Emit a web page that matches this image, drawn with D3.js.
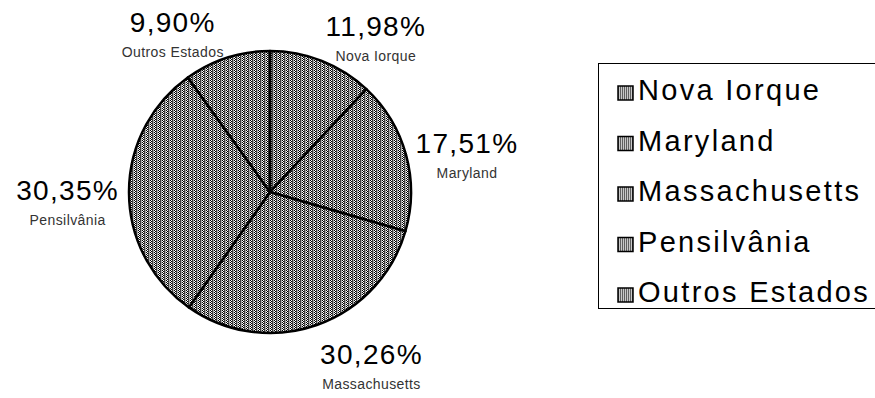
<!DOCTYPE html>
<html>
<head>
<meta charset="utf-8">
<script src="https://cdn.jsdelivr.net/npm/d3@7/dist/d3.min.js"></script>
<style>
  html, body { margin: 0; padding: 0; background: #fff; }
  svg { display: block; }
</style>
</head>
<body>
<svg id="chart" width="875" height="398"></svg>
<script>
// Share of each state (percent)
const states = ["Nova Iorque", "Maryland", "Massachusetts", "Pensilvânia", "Outros Estados"];
const shares = [11.98, 17.51, 30.26, 30.35, 9.90];
const shareLabels = ["11,98%", "17,51%", "30,26%", "30,35%", "9,90%"];

const W = 875, H = 398;
const svg = d3.select("#chart");

// Dithered grey fill used for the slices and the legend keys
const defs = svg.append("defs");
const pat = defs.append("pattern")
  .attr("id", "dither").attr("patternUnits", "userSpaceOnUse")
  .attr("width", 4).attr("height", 2);
pat.append("rect").attr("width", 4).attr("height", 2).attr("fill", "#fff");
pat.append("rect").attr("x", 0).attr("y", 0).attr("width", 1).attr("height", 1).attr("fill", "#000");
pat.append("rect").attr("x", 1).attr("y", 1).attr("width", 1).attr("height", 1).attr("fill", "#000");
pat.append("rect").attr("x", 2).attr("y", 0).attr("width", 1).attr("height", 2).attr("fill", "#404040");
pat.append("rect").attr("x", 3).attr("y", 0).attr("width", 1).attr("height", 2).attr("fill", "#a8a8a8");

const key = defs.append("pattern")
  .attr("id", "keyfill").attr("patternUnits", "userSpaceOnUse")
  .attr("width", 2).attr("height", 1);
key.append("rect").attr("width", 2).attr("height", 1).attr("fill", "#c8c8c8");
key.append("rect").attr("width", 1).attr("height", 1).attr("fill", "#606060");

// Pie
const cx = 270, cy = 192, r = 141;
const data = states.map((s, i) => ({ state: s, value: shares[i], label: shareLabels[i] }));
const pie = d3.pie().value(d => d.value).sort(null);
const arcs = pie(data);
const arc = d3.arc().innerRadius(0).outerRadius(r);
const anchorArc = d3.arc().innerRadius(r + 10).outerRadius(r + 10);

const g = svg.append("g").attr("transform", `translate(${cx},${cy})`);
g.selectAll("path.slice").data(arcs).join("path")
  .attr("class", "slice")
  .attr("d", arc)
  .attr("fill", "url(#dither)")
  .attr("stroke", "#000")
  .attr("stroke-width", 2.5)
  .attr("stroke-linejoin", "round");

// Data labels: value on top, state name below, set just outside the rim
const boxH = 48;
const lab = svg.append("g");
arcs.forEach(a => {
  const [px, py] = anchorArc.centroid(a);
  const mid = (a.startAngle + a.endAngle) / 2;
  const grp = lab.append("g");
  const t1 = grp.append("text")
    .attr("font-family", "'Liberation Sans', Arial, sans-serif")
    .attr("font-size", 28).attr("letter-spacing", 1.3).attr("fill", "#000")
    .attr("text-anchor", "middle")
    .text(a.data.label);
  const t2 = grp.append("text")
    .attr("font-family", "'Liberation Sans', Arial, sans-serif")
    .attr("font-size", 14).attr("letter-spacing", 0.4).attr("fill", "#333")
    .attr("text-anchor", "middle")
    .text(a.data.state);
  const w = Math.max(t1.node().getComputedTextLength(), t2.node().getComputedTextLength());
  const ax = cx + px, ay = cy + py;
  const centerX = Math.sin(mid) >= 0 ? ax + w / 2 : ax - w / 2;
  const centerY = ay + 11 - Math.cos(mid) * boxH / 2;
  const top = centerY - boxH / 2;
  t1.attr("x", centerX).attr("y", top + 20);
  t2.attr("x", centerX).attr("y", top + 45);
});

// Legend
const leg = svg.append("g");
leg.append("rect")
  .attr("x", 598.5).attr("y", 63.5).attr("width", 290).attr("height", 245)
  .attr("fill", "#fff").attr("stroke", "#000").attr("stroke-width", 1);
const rowY = d3.scalePoint().domain(states).range([100, 302]);
states.forEach(s => {
  const y = rowY(s);
  leg.append("rect")
    .attr("x", 618).attr("y", y - 14).attr("width", 15).attr("height", 14)
    .attr("fill", "url(#keyfill)").attr("stroke", "#000").attr("stroke-width", 1.5);
  leg.append("text")
    .attr("x", 638).attr("y", y)
    .attr("font-family", "'Liberation Sans', Arial, sans-serif")
    .attr("font-size", 29).attr("letter-spacing", 2.3).attr("fill", "#000")
    .text(s);
});
</script>
</body>
</html>
